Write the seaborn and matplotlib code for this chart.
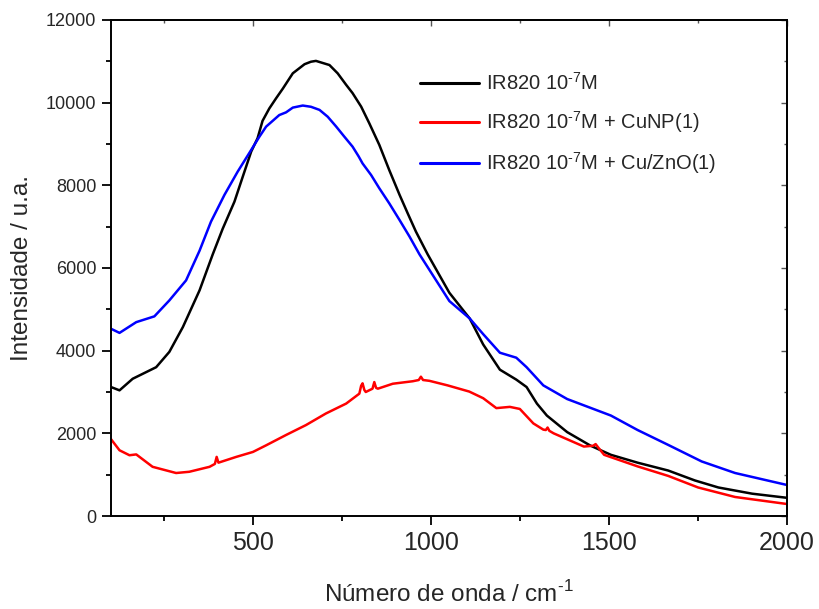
import numpy as np
import pandas as pd
import matplotlib
matplotlib.use("Agg")
import matplotlib.pyplot as plt
import seaborn as sns

# ---- data ----
black_x = [100, 124, 161, 227, 264, 302, 349, 386, 414, 447, 470, 494, 512, 526, 545, 564, 583, 611, 644, 662,
           676, 714, 737, 761, 779, 803, 826, 854, 882, 911, 934, 957, 990, 1051, 1108, 1146, 1193, 1239,
           1268, 1297, 1325, 1382, 1448, 1505, 1580, 1666, 1741, 1807, 1902, 2000]
black_y = [3120, 3040, 3320, 3600, 3970, 4570, 5460, 6330, 6950, 7605, 8200, 8815, 9140, 9560, 9860, 10105,
           10340, 10710, 10930, 10990, 11010, 10910, 10710, 10430, 10230, 9905, 9500, 8980, 8370, 7770,
           7320, 6880, 6330, 5400, 4780, 4150, 3540, 3300, 3120, 2720, 2430, 2030, 1700, 1480, 1290,
           1100, 860, 690, 540, 440]

blue_x = [100, 124, 171, 222, 264, 311, 349, 381, 419, 456, 494, 517, 536, 573, 592, 611, 639, 662, 686,
          709, 733, 756, 779, 796, 807, 831, 854, 882, 911, 939, 967, 1051, 1108, 1146, 1193, 1239, 1268,
          1315, 1382, 1505, 1580, 1666, 1760, 1854, 2000]
blue_y = [4530, 4430, 4690, 4830, 5215, 5700, 6420, 7120, 7770, 8330, 8855, 9175, 9420, 9700, 9765, 9880,
          9930, 9900, 9825, 9660, 9420, 9175, 8935, 8700, 8530, 8250, 7930, 7565, 7160, 6760, 6330, 5200,
          4780, 4400, 3950, 3830, 3600, 3160, 2830, 2430, 2080, 1720, 1320, 1040, 750]

red_x = [100, 124, 152, 171, 217, 283, 320, 377, 392, 397, 402, 452, 499, 536, 592, 648, 704, 761, 798,
         803, 807, 812, 816, 835, 840, 845, 850, 892, 948, 965, 971, 977, 995, 1046, 1107, 1146, 1183,
         1221, 1249, 1287, 1315, 1322, 1327, 1332, 1344, 1429, 1455, 1462, 1470, 1486, 1580, 1666, 1750,
         1854, 2000]
red_y = [1860, 1590, 1470, 1490, 1190, 1040, 1070, 1190, 1260, 1430, 1290, 1430, 1550, 1710, 1960, 2200,
         2480, 2720, 2960, 3150, 3210, 3050, 3000, 3080, 3240, 3100, 3080, 3200, 3260, 3290, 3370, 3290,
         3270, 3160, 3010, 2850, 2610, 2640, 2590, 2240, 2090, 2080, 2140, 2060, 2000, 1680, 1700, 1740,
         1650, 1480, 1200, 970, 690, 460, 290]

labels = [r'IR820 10$^{\text{-7}}$M',
          r'IR820 10$^{\text{-7}}$M + CuNP(1)',
          r'IR820 10$^{\text{-7}}$M + Cu/ZnO(1)']
colors = ['#000000', '#ff0000', '#0000ff']

x_ticks = [500, 1000, 1500, 2000]
y_ticks = [0, 2000, 4000, 6000, 8000, 10000, 12000]

df = pd.concat([
    pd.DataFrame({'x': black_x, 'y': black_y, 'serie': labels[0]}),
    pd.DataFrame({'x': red_x, 'y': red_y, 'serie': labels[1]}),
    pd.DataFrame({'x': blue_x, 'y': blue_y, 'serie': labels[2]}),
], ignore_index=True)

sns.set_style('ticks')
plt.rcParams['font.family'] = ['Liberation Sans', 'DejaVu Sans']
plt.rcParams['mathtext.fontset'] = 'custom'
plt.rcParams['mathtext.rm'] = 'Liberation Sans'
plt.rcParams['axes.unicode_minus'] = False

fig = plt.figure(figsize=(8.19, 6.09), dpi=100)
ax = fig.add_axes([0.1355, 0.1527, 0.8255, 0.8145])

sns.lineplot(data=df, x='x', y='y', hue='serie', hue_order=labels,
             palette=dict(zip(labels, colors)), estimator=None, sort=True,
             linewidth=1.8, ax=ax)

ax.set_xlim(100, 2000)
ax.set_ylim(0, 12000)
ax.set_xticks(x_ticks)
ax.set_yticks(y_ticks)
ax.xaxis.set_minor_locator(matplotlib.ticker.MultipleLocator(250))
ax.yaxis.set_minor_locator(matplotlib.ticker.MultipleLocator(1000))
ax.tick_params(which='major', direction='out', length=6.5, width=1.3, color='black')
ax.tick_params(which='minor', direction='out', length=3.5, width=1.3, color='black')
ax.tick_params(axis='x', which='major', labelsize=18, pad=4)
ax.tick_params(axis='y', which='major', labelsize=13, pad=4)

for s in ax.spines.values():
    s.set_linewidth(1.4)
    s.set_color('black')

# inward ticks on top and right
top = ax.secondary_xaxis('top')
top.set_xticks(x_ticks)
top.xaxis.set_minor_locator(matplotlib.ticker.MultipleLocator(250))
top.tick_params(which='major', direction='in', length=4, width=1.0, labeltop=False, color='#555555')
top.tick_params(which='minor', direction='in', length=2.5, width=1.0, color='#555555')
top.spines['top'].set_linewidth(1.2)
top.spines['top'].set_color('#444444')
right = ax.secondary_yaxis('right')
right.set_yticks(y_ticks)
right.yaxis.set_minor_locator(matplotlib.ticker.MultipleLocator(1000))
right.tick_params(which='major', direction='in', length=4, width=1.0, labelright=False, color='#555555')
right.tick_params(which='minor', direction='in', length=2.5, width=1.0, color='#555555')
right.spines['right'].set_linewidth(1.2)
right.spines['right'].set_color('#444444')

ax.set_xlabel(r'Número de onda / cm$^{\text{-1}}$', fontsize=17.5, labelpad=19)
ax.set_ylabel('Intensidade / u.a.', fontsize=17.5, labelpad=9)

leg = ax.legend(loc='upper left', bbox_to_anchor=(0.43, 0.931), frameon=False,
                fontsize=14.5, handlelength=2.95, labelspacing=0.75, handletextpad=0.35)
for line in leg.get_lines():
    line.set_linewidth(2.2)

fig.savefig('out.png', dpi=100)
